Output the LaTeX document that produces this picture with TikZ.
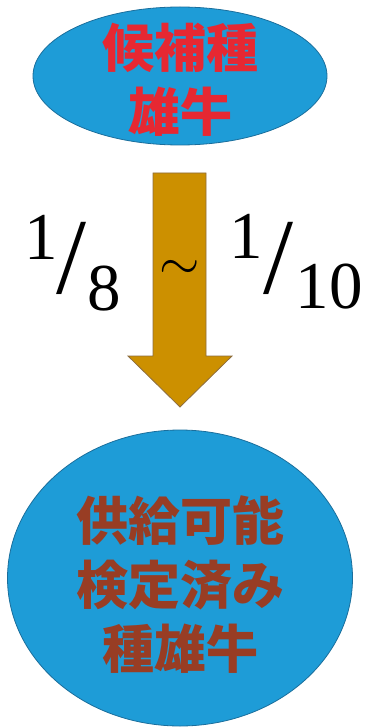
\documentclass[tikz,border=0pt]{standalone}
\usepackage{fontspec}
\usepackage{graphicx}
\usetikzlibrary{shapes.geometric}
\newfontfamily\cjk{Noto Sans CJK JP}
\newfontfamily\numfont{Liberation Serif}
\definecolor{ellfill}{HTML}{1E9CD7}
\definecolor{elldraw}{HTML}{1A6E9C}
\definecolor{topred}{HTML}{E62832}
\definecolor{botbrown}{HTML}{983D24}
\definecolor{arrfill}{HTML}{CC9000}
\definecolor{arrdraw}{HTML}{8C6D3F}
\tikzset{
  blob/.style={ellipse, fill=ellfill, draw=elldraw, line width=0.8pt, inner sep=0pt},
  jtext/.style={font=\cjk\bfseries\fontsize{52}{64}\selectfont, align=center, inner sep=0pt},
  digit/.style={font=\numfont\fontsize{67}{67}\selectfont, inner sep=0pt},
  slashtxt/.style={font=\numfont\fontsize{108}{108}\selectfont, inner sep=0pt},
}
\begin{document}
\begin{tikzpicture}[x=1pt,y=-1pt]
\useasboundingbox (0,0) rectangle (367,727);
% ellipses
\node[blob, minimum width=294pt, minimum height=138pt] (top) at (180,76) {};
\node[blob, minimum width=345pt, minimum height=296pt] (bot) at (180,578) {};
% block arrow
\coordinate (a1) at (153,173);
\coordinate (a2) at (206,173);
\coordinate (a3) at (206,356);
\coordinate (a4) at (232,356);
\coordinate (tip) at (180,407);
\coordinate (a6) at (128,356);
\coordinate (a7) at (153,356);
\draw[fill=arrfill, draw=arrdraw, line width=0.8pt, line join=miter]
  (a1) -- (a2) -- (a3) -- (a4) -- (tip) -- (a6) -- (a7) -- cycle;
% texts
\node[jtext, text=topred] (t1) at (180,48) {候補種};
\node[jtext, text=topred] (t2) at (180,112) {雄牛};
\node[jtext, text=botbrown] (b1) at (180,521) {供給可能};
\node[jtext, text=botbrown] (b2) at (180,585) {検定済み};
\node[jtext, text=botbrown] (b3) at (180,649) {種雄牛};
% fractions
\node[digit, anchor=base] (n1) at (41,259) {1};
\node[slashtxt] (s1) at (72,258) {/};
\node[digit, anchor=base] (d1) at (104,310) {8};
\node[inner sep=0pt] (tilde) at (180,270) {\scalebox{5.2}{$\sim$}};
\node[digit, anchor=base] (n2) at (246,258) {1};
\node[slashtxt] (s2) at (278,258) {/};
\node[digit, anchor=base] (d2) at (329,308) {10};
\end{tikzpicture}
\end{document}
